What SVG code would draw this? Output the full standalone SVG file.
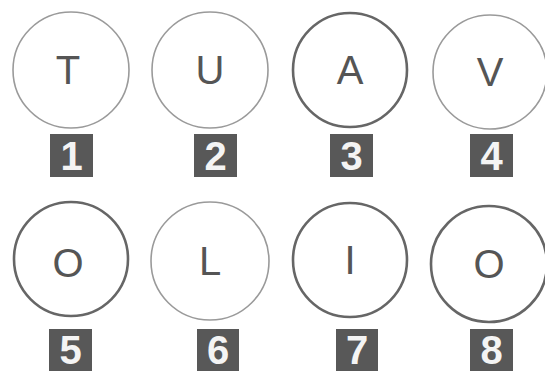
<svg xmlns="http://www.w3.org/2000/svg" width="545" height="374" viewBox="0 0 545 374">
<style>
.c{fill:#ffffff}
.light{stroke:#9a9a9a;stroke-width:1.6}
.dark{stroke:#666666;stroke-width:2.6}
.let{font-family:"Liberation Sans",Arial,sans-serif;font-size:40px;fill:#555555;text-anchor:middle}
.box{fill:#585858}
.num{font-family:"Liberation Sans",Arial,sans-serif;font-size:40px;font-weight:bold;fill:#f4f4f4;text-anchor:middle}
</style>
<rect width="545" height="374" fill="#ffffff"/>
<g id="node1"><circle class="c light" cx="71" cy="70" r="58"/><text class="let" x="68" y="84">T</text><rect class="box" x="50" y="134" width="43" height="43"/><text class="num" x="71.5" y="170">1</text></g>
<g id="node2"><circle class="c light" cx="210" cy="70" r="58"/><text class="let" x="210" y="84">U</text><rect class="box" x="194" y="134" width="43" height="43"/><text class="num" x="215.5" y="170">2</text></g>
<g id="node3"><circle class="c dark" cx="350" cy="70" r="57"/><text class="let" x="350" y="84">A</text><rect class="box" x="330" y="134" width="43" height="43"/><text class="num" x="351.5" y="170">3</text></g>
<g id="node4"><circle class="c light" cx="490" cy="72" r="57"/><text class="let" x="490" y="86">V</text><rect class="box" x="470" y="134" width="43" height="43"/><text class="num" x="491.5" y="170">4</text></g>
<g id="node5"><circle class="c dark" cx="71" cy="259" r="57"/><text class="let" x="68" y="277">O</text><rect class="box" x="49" y="329" width="43" height="42"/><text class="num" x="70.5" y="364">5</text></g>
<g id="node6"><circle class="c light" cx="210" cy="261" r="59"/><text class="let" x="210" y="275">L</text><rect class="box" x="197" y="329" width="42" height="42"/><text class="num" x="218" y="364">6</text></g>
<g id="node7"><circle class="c dark" cx="350" cy="260" r="57"/><text class="let" x="350" y="274">I</text><rect class="box" x="336" y="329" width="42" height="42"/><text class="num" x="357" y="364">7</text></g>
<g id="node8"><circle class="c dark" cx="489" cy="264" r="58"/><text class="let" x="489" y="278">O</text><rect class="box" x="470" y="329" width="43" height="42"/><text class="num" x="491.5" y="364">8</text></g>
<g id="connectors"></g>
</svg>
